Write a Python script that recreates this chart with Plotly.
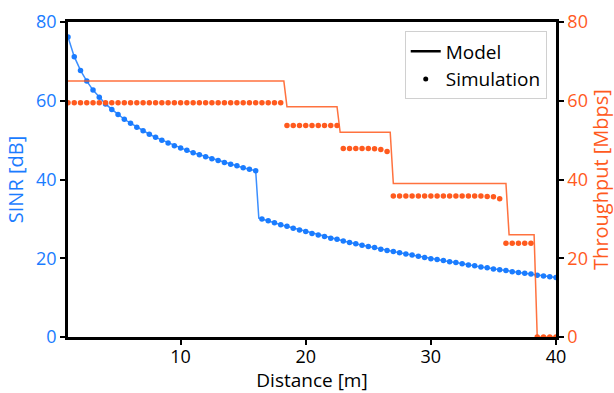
import plotly.graph_objects as go

# Distance grid of the simulated points [m]
dist = [1.0, 1.5, 2.0, 2.5, 3.0, 3.5, 4.0, 4.5, 5.0, 5.5, 6.0, 6.5, 7.0, 7.5, 8.0,
        8.5, 9.0, 9.5, 10.0, 10.5, 11.0, 11.5, 12.0, 12.5, 13.0, 13.5, 14.0, 14.5,
        15.0, 15.5, 16.0, 16.5, 17.0, 17.5, 18.0, 18.5, 19.0, 19.5, 20.0, 20.5,
        21.0, 21.5, 22.0, 22.5, 23.0, 23.5, 24.0, 24.5, 25.0, 25.5, 26.0, 26.5,
        27.0, 27.5, 28.0, 28.5, 29.0, 29.5, 30.0, 30.5, 31.0, 31.5, 32.0, 32.5,
        33.0, 33.5, 34.0, 34.5, 35.0, 35.5, 36.0, 36.5, 37.0, 37.5, 38.0, 38.5,
        39.0, 39.5, 40.0]

# Simulated SINR [dB]
sinr_sim = [76.2, 71.2, 67.7, 65.0, 62.7, 60.9, 59.2, 57.8, 56.5, 55.3, 54.3, 53.3,
            52.4, 51.5, 50.7, 50.0, 49.3, 48.6, 48.0, 47.4, 46.8, 46.3, 45.8, 45.3,
            44.8, 44.3, 43.9, 43.5, 43.0, 42.6, 42.2,
            30.0, 29.5, 29.0, 28.5, 28.1, 27.6, 27.2, 26.8, 26.3, 25.9, 25.5, 25.1,
            24.8, 24.4, 24.0, 23.7, 23.3, 23.0, 22.7, 22.3, 22.0, 21.7, 21.4, 21.1,
            20.8, 20.5, 20.2, 19.9, 19.7, 19.4, 19.1, 18.9, 18.6, 18.3, 18.1, 17.8,
            17.6, 17.3, 17.1, 16.9, 16.6, 16.4, 16.2, 16.0, 15.7, 15.5, 15.3, 15.1]

# Simulated throughput [Mbps]
tput_sim = [59.5] * 35 + [53.7] * 9 + \
           [47.9, 47.9, 47.9, 47.9, 47.9, 47.8, 47.6, 47.1] + \
           [35.8] * 15 + [35.7, 35.6, 35.1] + \
           [23.8] * 5 + [0.0] * 4

# Model SINR: same curve with the breakpoint where the interference regime changes
jump_dist = 16.25
jump_sinr = 30.2
split = dist.index(16.0) + 1
sinr_model_dist = dist[:split] + [jump_dist] + dist[split:]
sinr_model = sinr_sim[:split] + [jump_sinr] + sinr_sim[split:]

# Model throughput: MCS rate steps [Mbps]
tput_model_dist = [1.0, 18.25, 18.5, 22.5, 22.75, 26.75, 27.0, 36.0, 36.25, 38.25, 38.5, 40.0]
tput_model = [65.0, 65.0, 58.5, 58.5, 52.0, 52.0, 39.0, 39.0, 26.0, 26.0, 0.0, 0.0]

BLUE = "#1a7cff"
ORANGE = "#ff5a1e"
FONT = "Open Sans"
FS = 18
TITLE_FS = 20

fig = go.Figure()

fig.add_trace(go.Scatter(x=sinr_model_dist, y=sinr_model, mode="lines",
                         line=dict(color=BLUE, width=1.5), opacity=0.85,
                         showlegend=False, yaxis="y"))
fig.add_trace(go.Scatter(x=dist, y=sinr_sim, mode="markers",
                         marker=dict(color=BLUE, size=5.5, line=dict(width=0)),
                         showlegend=False, yaxis="y"))
fig.add_trace(go.Scatter(x=tput_model_dist, y=tput_model, mode="lines",
                         line=dict(color=ORANGE, width=1.5), opacity=0.85,
                         showlegend=False, yaxis="y2"))
fig.add_trace(go.Scatter(x=dist, y=tput_sim, mode="markers",
                         marker=dict(color=ORANGE, size=5.5, line=dict(width=0)),
                         showlegend=False, yaxis="y2"))

# Legend keys (style only)
fig.add_trace(go.Scatter(x=[None], y=[None], mode="lines", name="Model",
                         line=dict(color="black", width=2.5)))
fig.add_trace(go.Scatter(x=[None], y=[None], mode="markers", name="Simulation",
                         marker=dict(color="black", size=5)))

axis_common = dict(showgrid=False, zeroline=False, showline=True, linecolor="black",
                   linewidth=2.5, ticks="outside", ticklen=5, tickwidth=2,
                   tickcolor="black", automargin=False)

fig.update_layout(
    width=614, height=393,
    margin=dict(l=68, r=58, t=22, b=56),
    paper_bgcolor="white", plot_bgcolor="white",
    font=dict(family=FONT, size=FS, color="black"),
    xaxis=dict(range=[1, 40], tickvals=[10, 20, 30, 40], mirror=True,
               ticklabelstandoff=-3,
               title=dict(text="Distance [m]",
                          font=dict(family=FONT, size=19, color="black"), standoff=5),
               tickfont=dict(color="black"), **axis_common),
    yaxis=dict(range=[0, 80], tickvals=[0, 20, 40, 60, 80],
               title=dict(text="SINR [dB]",
                          font=dict(family=FONT, size=TITLE_FS, color=BLUE), standoff=8),
               tickfont=dict(color=BLUE), **axis_common),
    yaxis2=dict(range=[0, 80], tickvals=[0, 20, 40, 60, 80], overlaying="y",
                side="right",
                title=dict(text="Throughput [Mbps]",
                           font=dict(family=FONT, size=TITLE_FS, color=ORANGE), standoff=8),
                tickfont=dict(color=ORANGE), **axis_common),
    legend=dict(x=0.69, y=0.97, xanchor="left", yanchor="top",
                bgcolor="rgba(255,255,255,0.8)", bordercolor="#d0d0d0", borderwidth=1,
                font=dict(size=19), itemwidth=30),
)

fig.write_html("out.html")
